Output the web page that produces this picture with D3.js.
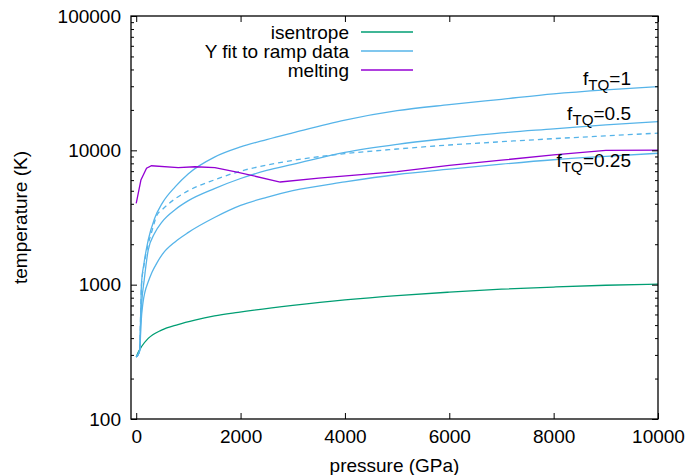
<!DOCTYPE html>
<html><head><meta charset="utf-8">
<script src="https://cdn.jsdelivr.net/npm/d3@7"></script>
<style>
body{margin:0;background:#fff}
text{font-family:"Liberation Sans",Arial,sans-serif}
</style></head>
<body>
<svg id="c" width="689" height="475"></svg>
<script>
// ---- data ----
const xTicks = [0, 2000, 4000, 6000, 8000, 10000];
const yTicks = [100, 1000, 10000, 100000];

const isenP = [0, 50, 100, 230, 485, 800, 1124, 1500, 1954, 3000, 4000, 5000, 6000, 7000, 8000, 9000, 10000];
const isenT = [290, 320, 345, 398, 459, 505, 545, 585, 622, 700, 770, 830, 880, 925, 960, 990, 1010];

const f1P = [0, 50, 70, 80, 90, 100, 150, 230, 350, 500, 750, 1000, 1500, 2000, 2500, 3000, 4000, 5000, 6000, 7000, 8000, 9000, 10000];
const f1T = [290, 310, 330, 500, 726, 1000, 1450, 2150, 3100, 4050, 5370, 6700, 8900, 10590, 12020, 13490, 16790, 19720, 21880, 23990, 26300, 28180, 29790];

const f05P = [0, 50, 70, 85, 105, 153, 230, 350, 500, 750, 1000, 1500, 2000, 2500, 3000, 4000, 5000, 6000, 7000, 8000, 9000, 10000];
const f05T = [290, 310, 330, 500, 726, 1082, 1810, 2400, 2950, 3630, 4220, 5190, 6170, 7080, 7850, 9660, 11090, 12300, 13490, 14450, 15490, 16370];

const f025P = [0, 50, 70, 90, 128, 243, 300, 400, 500, 750, 1000, 1500, 2000, 2500, 3000, 4000, 5000, 6000, 7000, 8000, 9000, 10000];
const f025T = [290, 310, 330, 500, 726, 1082, 1230, 1460, 1680, 2090, 2450, 3160, 3890, 4470, 5010, 5820, 6610, 7240, 7890, 8510, 9020, 9510];

const dashP = [0, 50, 70, 80, 90, 100, 150, 230, 300, 400, 500, 750, 1000, 1500, 2000, 2500, 3000, 4000, 5000, 6000, 7000, 8000, 9000, 10000];
const dashT = [290, 310, 330, 500, 720, 980, 1400, 2000, 2500, 3310, 3630, 4370, 5010, 6030, 7000, 7760, 8410, 9440, 10230, 10960, 11590, 12220, 12820, 13430];

const meltP = [0, 90, 198, 293, 805, 1124, 1508, 1954, 2759, 3500, 4483, 5000, 6000, 7000, 8000, 9000, 10000];
const meltT = [4030, 6010, 7350, 7680, 7430, 7550, 7430, 6860, 5810, 6200, 6670, 6950, 7730, 8450, 9250, 10000, 10050];

const legendLabels = ["isentrope", "Y fit to ramp data", "melting"];
const curveLabels = [{main:"f", sub:"TQ", rest:"=1"}, {main:"f", sub:"TQ", rest:"=0.5"}, {main:"f", sub:"TQ", rest:"=0.25"}];

// ---- layout ----
const svg = d3.select("#c");
const L = 131, R = 658, T = 16, B = 419;
const x = d3.scaleLinear().domain([-100, 10000]).range([L, R]);
const y = d3.scaleLog().domain([100, 100000]).range([B, T]);
const FS = 19;

const green = "#009e73", blue = "#56b4e9", purple = "#9400d3";

const zip = (a, b) => a.map((v, i) => [v, b[i]]);
const lineS = d3.line().x(d => x(d[0])).y(d => y(d[1])).curve(d3.curveMonotoneX);
const lineL = d3.line().x(d => x(d[0])).y(d => y(d[1]));

const g = svg.append("g");
function drawLine(data, color, gen, dash) {
  g.append("path").attr("d", gen(data)).attr("fill", "none")
    .attr("stroke", color).attr("stroke-width", 1.3)
    .attr("stroke-dasharray", dash || null);
}
drawLine(zip(isenP, isenT), green, lineS);
drawLine(zip(dashP, dashT), blue, lineS, "5,4");
drawLine(zip(f1P, f1T), blue, lineS);
drawLine(zip(f05P, f05T), blue, lineS);
drawLine(zip(f025P, f025T), blue, lineS);
drawLine(zip(meltP, meltT), purple, lineL);

// minor log ticks
const yMinor = [];
for (let d = 100; d < 100000; d *= 10) for (let k = 2; k <= 9; k++) yMinor.push(d * k);

function styleAxis(sel) {
  sel.select(".domain").remove();
  sel.selectAll("line").attr("stroke", "#000").attr("stroke-width", 1);
  sel.selectAll("text").attr("font-size", FS).attr("fill", "#000")
     .attr("font-family", '"Liberation Sans",Arial,sans-serif');
}
svg.append("g").attr("transform", `translate(${L},0)`)
  .call(d3.axisLeft(y).tickValues(yTicks).tickSize(-6).tickPadding(10).tickFormat(d3.format("d"))).call(styleAxis);
svg.append("g").attr("transform", `translate(${L},0)`)
  .call(d3.axisLeft(y).tickValues(yMinor).tickSize(-3).tickFormat("")).call(styleAxis);
svg.append("g").attr("transform", `translate(${R},0)`)
  .call(d3.axisRight(y).tickValues(yTicks).tickSize(-6).tickFormat("")).call(styleAxis);
svg.append("g").attr("transform", `translate(${R},0)`)
  .call(d3.axisRight(y).tickValues(yMinor).tickSize(-3).tickFormat("")).call(styleAxis);
svg.append("g").attr("transform", `translate(0,${B})`)
  .call(d3.axisBottom(x).tickValues(xTicks).tickSize(-6).tickPadding(11).tickFormat(d3.format("d"))).call(styleAxis);
svg.append("g").attr("transform", `translate(0,${T})`)
  .call(d3.axisTop(x).tickValues(xTicks).tickSize(-6).tickFormat("")).call(styleAxis);

// frame
svg.append("rect").attr("x", L).attr("y", T).attr("width", R - L).attr("height", B - T)
  .attr("fill", "none").attr("stroke", "#000").attr("stroke-width", 1.3);

// axis titles
svg.append("text").attr("x", (L + R) / 2).attr("y", 472).attr("text-anchor", "middle")
  .attr("font-size", FS).text("pressure (GPa)");
svg.append("text").attr("transform", `translate(27,${(T + B) / 2}) rotate(-90)`)
  .attr("text-anchor", "middle").attr("font-size", FS).text("temperature (K)");

// legend
const legColors = [green, blue, purple];
legendLabels.forEach((t, i) => {
  const cy = 32 + i * 19;
  svg.append("text").attr("x", 349).attr("y", cy).attr("dy", "0.35em")
    .attr("text-anchor", "end").attr("font-size", FS).text(t);
  svg.append("line").attr("x1", 361).attr("x2", 413).attr("y1", cy).attr("y2", cy)
    .attr("stroke", legColors[i]).attr("stroke-width", 1.3);
});

// curve labels
const labelY = [85, 120, 167];
curveLabels.forEach((c, i) => {
  const t = svg.append("text").attr("x", 631).attr("y", labelY[i])
    .attr("text-anchor", "end").attr("font-size", FS);
  t.append("tspan").text(c.main);
  t.append("tspan").attr("font-size", FS * 0.8).attr("dy", 5).text(c.sub);
  t.append("tspan").attr("dy", -5).text(c.rest);
});
</script>
</body></html>
